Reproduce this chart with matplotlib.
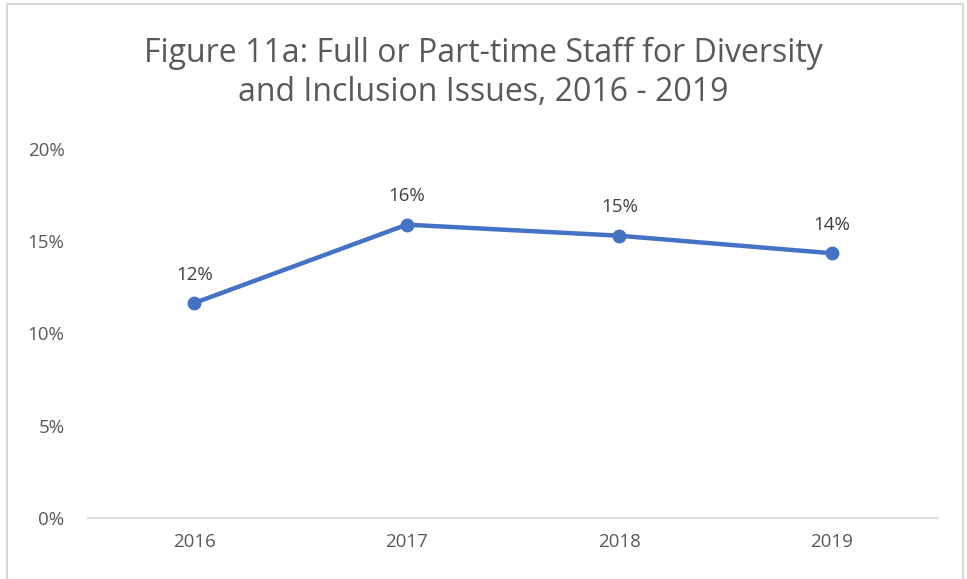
import matplotlib.pyplot as plt
from matplotlib.patches import Rectangle

# share of respondents with full or part-time D&I staff
years = ['2016', '2017', '2018', '2019']
share = [0.1165, 0.159, 0.153, 0.1435]
yticks = [0, 0.05, 0.10, 0.15, 0.20]

plt.rcParams['font.family'] = ['Open Sans', 'DejaVu Sans']
grey = '#595959'
blue = '#4472C4'

W, H = 967, 579
fig = plt.figure(figsize=(W / 100, H / 100), dpi=100)

# light chart border (bottom edge runs off the image)
fig.patches.append(Rectangle((7 / W, -0.05), 956 / W, 1.05 - 4 / H,
                             transform=fig.transFigure, fill=False,
                             edgecolor='#D9D9D9', linewidth=1.5))

ax = fig.add_axes([88 / W, 1 - 518 / H, 850 / W, 369 / H])
x = list(range(len(years)))
ax.plot(x, share, color=blue, linewidth=3.2, marker='o', markersize=9,
        solid_capstyle='round')
for xi, v in zip(x, share):
    ax.annotate(f'{v * 100:.0f}%', (xi, v), xytext=(0, 14),
                textcoords='offset points', ha='center', va='bottom',
                fontsize=13.5, color='#404040')

ax.set_xlim(-0.5, len(years) - 0.5)
ax.set_ylim(0, 0.20)
ax.set_xticks(x)
ax.set_xticklabels(years)
ax.set_yticks(yticks)
ax.set_yticklabels([f'{t * 100:.0f}%' for t in yticks])
ax.tick_params(length=0, labelsize=13.5, colors=grey)
ax.tick_params(axis='x', pad=11)
ax.tick_params(axis='y', pad=17)
for s in ['top', 'right', 'left']:
    ax.spines[s].set_visible(False)
ax.spines['bottom'].set_color('#D9D9D9')
ax.spines['bottom'].set_linewidth(1.3)
ax.set_facecolor('none')

fig.text(0.5, 1 - 73 / H, 'Figure 11a: Full or Part-time Staff for Diversity\nand Inclusion Issues, 2016 - 2019',
         ha='center', va='center', fontsize=23, color=grey, linespacing=1.25)

fig.savefig('out.png', dpi=100)
